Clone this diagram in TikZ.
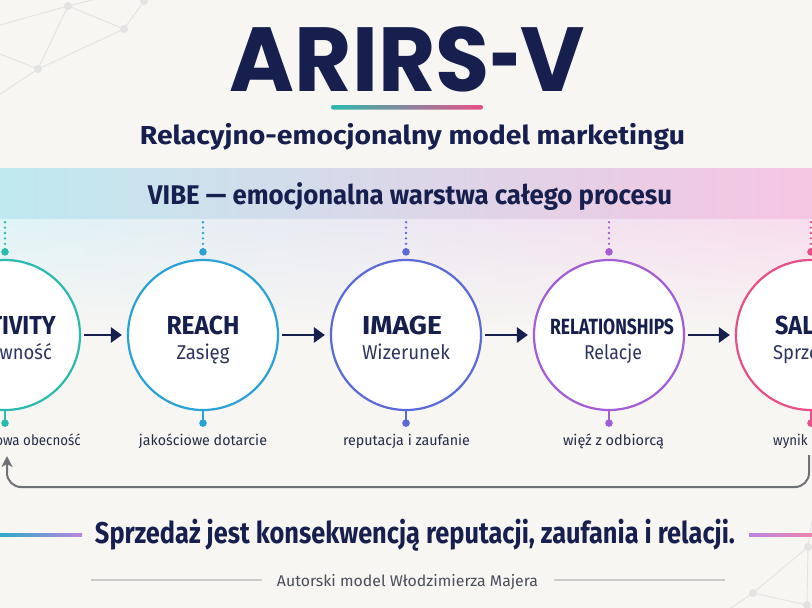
\documentclass[tikz,border=0pt]{standalone}
\usepackage{fontspec}
\setmainfont{Fira Sans}
\newfontfamily\poppins{Poppins}
\usetikzlibrary{arrows.meta,fadings,calc}
\definecolor{bg}{HTML}{F7F6F3}
\definecolor{navy}{HTML}{161F4D}
\definecolor{cA}{HTML}{2CB9AE}
\definecolor{cR}{HTML}{2BA2D6}
\definecolor{cI}{HTML}{5A6AD6}
\definecolor{cL}{HTML}{A35DD6}
\definecolor{cS}{HTML}{E64F88}
\definecolor{bandL}{HTML}{BFE9EF}
\definecolor{bandM}{HTML}{E2DCF3}
\definecolor{bandR}{HTML}{F6C5E2}
\definecolor{net}{HTML}{E3E3E3}
\definecolor{fbgray}{HTML}{6F7175}
\definecolor{labtext}{HTML}{262B45}
\definecolor{foottext}{HTML}{4A4D5A}
\definecolor{footline}{HTML}{CACACA}
\tikzfading[name=fadedown, top color=transparent!0, bottom color=transparent!100]
\newcommand\fw[2]{\resizebox{#1}{\height}{#2}}
\begin{document}
\begin{tikzpicture}[x=1pt,y=-1pt,
  circ/.style={circle, minimum size=150pt, inner sep=0pt, line width=2.2pt, fill=white},
  ctitle/.style={anchor=base, text=navy, inner sep=0pt, font=\bfseries\fontsize{26}{28}\selectfont},
  csub/.style={anchor=base, text=navy!90, inner sep=0pt, font=\fontsize{20}{22}\selectfont},
  lab/.style={anchor=base, text=labtext, inner sep=0pt, font=\fontsize{14.5}{16}\selectfont},
  flow/.style={draw=navy, line width=2.8pt, -{Triangle[length=11pt,width=15pt]}, shorten <=3pt, shorten >=5pt},
  dotline/.style={line width=2.6pt, line cap=round, dash pattern=on 0pt off 5.4pt},
  fb/.style={draw=fbgray, line width=2pt, rounded corners=14pt, -{Stealth[length=11pt,width=11pt,inset=3pt]}},
  netline/.style={draw=net, line width=0.9pt},
  netdot/.style={fill=net}
]
\useasboundingbox (0,0) rectangle (812,608);
\clip (0,0) rectangle (812,608);
\fill[bg] (0,0) rectangle (812,608);

% background network, top left
\coordinate (n1) at (68,6);
\coordinate (n2) at (124,29);
\coordinate (n3) at (38,69);
\coordinate (n4) at (144,1);
\draw[netline] (0,25) -- (n1) -- (n2) -- (n3) -- (n1);
\draw[netline] (0,54) -- (n3) -- (0,94);
\draw[netline] (n2) -- (n4);
\draw[netline] (n1) -- (100,-2);
\foreach \p in {n1,n2,n3,n4} \fill[netdot] (\p) circle (4pt);
% background network, bottom right
\coordinate (m1) at (753,593);
\coordinate (m2) at (808,547);
\coordinate (m3) at (807,605);
\draw[netline] (m1) -- (m2) -- (812,520);
\draw[netline] (m1) -- (m3);
\draw[netline] (m1) -- (725,612);
\draw[netline] (m2) -- (m3);
\foreach \p in {m1,m2,m3} \fill[netdot] (\p) circle (4pt);

% haze under the band
\shade[left color=bandL!50, middle color=bandM!40, right color=bandR!60, path fading=fadedown] (0,218) rectangle (812,330);

% title
\node[anchor=base, text=navy, inner sep=0pt, font=\poppins\bfseries\fontsize{91}{91}\selectfont] (title) at (407.5,91) {\fw{355pt}{ARIRS\scalebox{0.6}[1]{-}V}};
\shade[left color=cA, middle color=cI!70!cL, right color=cS, rounded corners=2pt] (331,105) rectangle (483,109.5);
\node[anchor=base, text=navy, inner sep=0pt, font=\bfseries\fontsize{26}{28}\selectfont] (sub) at (412.5,144) {\fw{545pt}{Relacyjno-emocjonalny model marketingu}};

% VIBE band
\node[minimum width=812pt, minimum height=50pt, inner sep=0pt, left color=bandL, middle color=bandM, right color=bandR] (band) at (406,193) {};
\node[anchor=base, text=navy, inner sep=0pt, font=\bfseries\fontsize{27}{29}\selectfont] (vibe) at (410,204) {\fw{524pt}{VIBE — emocjonalna warstwa całego procesu}};

% circles
\node[circ, draw=cA] (act) at (5,335) {};
\node[circ, draw=cR] (reach) at (203,335) {};
\node[circ, draw=cI] (img) at (406,335) {};
\node[circ, draw=cL] (rel) at (609,335) {};
\node[circ, draw=cS] (sal) at (811,335) {};

% dotted links to the band and stems to labels
\foreach \n/\c in {act/cA, reach/cR, img/cI, rel/cL, sal/cS} {
  \coordinate (\n top) at ($(\n.north)+(0,-7)$);
  \coordinate (\n bot) at ($(\n.south)+(0,12)$);
  \draw[dotline, draw=\c] (\n top |- band.south) ++(0,4) -- (\n top);
  \fill[\c] (\n top) circle (3.8pt);
  \draw[\c, line width=1.4pt] (\n.south) -- (\n bot);
  \fill[\c] (\n bot) circle (3.8pt);
}

% circle texts
\node[ctitle, anchor=base east] (actt) at (56,334) {\scalebox{0.9}[1]{ACTIVITY}};
\node[csub, anchor=base east] (acts) at (52,359) {\scalebox{0.92}[1]{Aktywność}};
\node[ctitle] (reacht) at (203,334) {\fw{73pt}{REACH}};
\node[csub] (reachs) at (203,359) {\fw{53pt}{Zasięg}};
\node[ctitle] (imgt) at (402,334) {\fw{80pt}{IMAGE}};
\node[csub] (imgs) at (406,359) {\fw{88pt}{Wizerunek}};
\node[ctitle, font=\bfseries\fontsize{22}{24}\selectfont] (relt) at (612,334) {\fw{124pt}{RELATIONSHIPS}};
\node[csub] (rels) at (613,359) {\fw{58pt}{Relacje}};
\node[ctitle, anchor=base west] (salt) at (775,334) {\scalebox{0.9}[1]{SALES}};
\node[csub, anchor=base west] (sals) at (773,359) {\scalebox{0.92}[1]{Sprzedaż}};

% labels below
\node[lab, anchor=base east] (actl) at (81,445) {\scalebox{0.92}[1]{cyfrowa obecność}};
\node[lab] (reachl) at (203,445) {\fw{128pt}{jakościowe dotarcie}};
\node[lab] (imgl) at (406.5,445) {\fw{127pt}{reputacja i zaufanie}};
\node[lab] (rell) at (613.5,445) {\fw{101pt}{więź z odbiorcą}};
\node[lab, anchor=base west] (sall) at (773,445) {\scalebox{0.92}[1]{wynik relacji}};

% flow arrows
\draw[flow] (act) -- (reach);
\draw[flow] (reach) -- (img);
\draw[flow] (img) -- (rel);
\draw[flow] (rel) -- (sal);

% feedback loop
\coordinate (fbR) at (809,455);
\coordinate (fbL) at (7,456);
\draw[fb] (fbR) -- ++(0,32) -| (fbL);

% conclusion
\node[anchor=base, text=navy, inner sep=0pt, font=\bfseries\fontsize{30}{32}\selectfont] (moral) at (415,543) {\fw{640pt}{Sprzedaż jest konsekwencją reputacji, zaufania i relacji.}};
\shade[left color=cR!60!cA, right color=cL!75] (0,533.8) rectangle (82,536.4);
\shade[left color=cL!75, right color=cS!70] (749,533.8) rectangle (812,536.4);

% footer
\node[anchor=base, text=foottext, inner sep=0pt, font=\fontsize{15.5}{17}\selectfont] (foot) at (407.5,586) {\fw{261pt}{Autorski model Włodzimierza Majera}};
\draw[footline, line width=1.3pt] (91,580) -- (262,580);
\draw[footline, line width=1.3pt] (554,580) -- (725,580);
\end{tikzpicture}
\end{document}
